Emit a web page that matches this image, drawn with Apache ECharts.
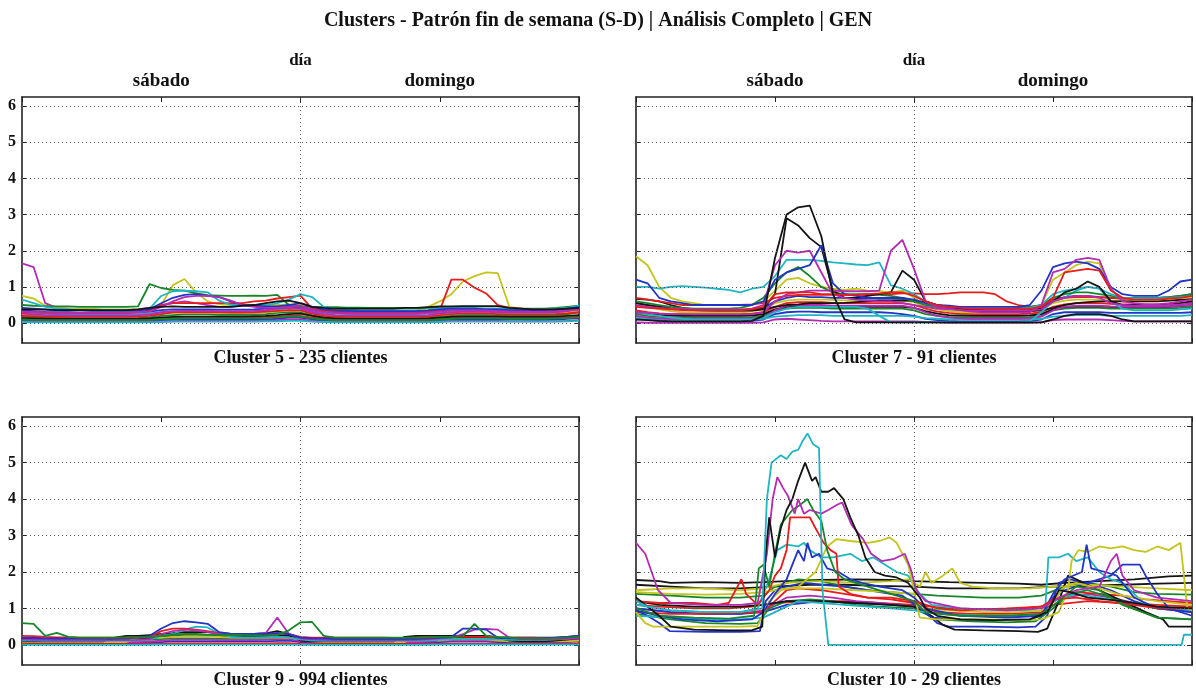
<!DOCTYPE html>
<html lang="es">
<head>
<meta charset="utf-8">
<title>Clusters - Patrón fin de semana (S-D)</title>
<script src="https://cdn.jsdelivr.net/npm/echarts@6/dist/echarts.min.js"></script>
<style>
  html, body { margin: 0; padding: 0; background: #fff; }
  #chart { width: 1196px; height: 692px; }
</style>
</head>
<body>
<div id="chart"></div>
<script>
// Hourly sampling grid: saturday 0..24, sunday 24..48
const hours = [0,1,2,3,4,5,6,7,8,9,10,11,12,13,14,15,16,17,18,19,20,21,22,23,24,
               25,26,27,28,29,30,31,32,33,34,35,36,37,38,39,40,41,42,43,44,45,46,47,48];
const yTickValues = [0, 1, 2, 3, 4, 5, 6];
const dayTicks = [12, 36];
const dayNames = ['sábado', 'domingo'];
const dayBoundary = 24;
const figureTitle = 'Clusters - Patrón fin de semana (S-D) | Análisis Completo | GEN';
const topAxisTitle = 'día';
const panelTitles = ['Cluster 5 - 235 clientes', 'Cluster 7 - 91 clientes',
                     'Cluster 9 - 994 clientes', 'Cluster 10 - 29 clientes'];

// ---- Cluster 5: one value per hour ----
const cluster5Colors = ['b','g','r','c','m','y','k','b','g','r','c','m','m','y','g','r','c','b','m','k'];
const cluster5 = [
  [0.08,0.07,0.06,0.06,0.05,0.05,0.05,0.05,0.05,0.05,0.06,0.07,
   0.08,0.09,0.1,0.1,0.1,0.1,0.1,0.1,0.1,0.1,0.12,0.15,
   0.15,0.1,0.07,0.06,0.05,0.05,0.05,0.05,0.05,0.05,0.05,0.06,
   0.08,0.09,0.1,0.1,0.1,0.1,0.1,0.1,0.09,0.09,0.1,0.12,0.14],
  [0.18,0.16,0.15,0.14,0.14,0.13,0.13,0.13,0.13,0.13,0.14,0.16,
   0.2,0.22,0.24,0.24,0.24,0.23,0.23,0.23,0.24,0.25,0.28,0.3,
   0.3,0.22,0.17,0.15,0.14,0.14,0.14,0.14,0.14,0.14,0.14,0.15,
   0.18,0.2,0.22,0.22,0.22,0.21,0.2,0.2,0.2,0.2,0.22,0.25,0.3],
  [0.12,0.11,0.1,0.1,0.1,0.09,0.09,0.09,0.09,0.09,0.1,0.1,
   0.12,0.14,0.15,0.15,0.15,0.15,0.15,0.15,0.16,0.17,0.18,0.2,
   0.2,0.15,0.12,0.1,0.1,0.1,0.1,0.1,0.1,0.1,0.1,0.1,
   0.12,0.14,0.15,0.15,0.15,0.15,0.14,0.14,0.14,0.14,0.15,0.16,0.18],
  [0.3,0.28,0.26,0.25,0.24,0.24,0.24,0.24,0.24,0.24,0.25,0.27,
   0.3,0.32,0.33,0.33,0.33,0.32,0.32,0.32,0.33,0.35,0.38,0.4,
   0.4,0.32,0.28,0.26,0.25,0.25,0.25,0.25,0.25,0.25,0.25,0.26,
   0.3,0.32,0.33,0.33,0.33,0.32,0.3,0.3,0.3,0.3,0.32,0.35,0.4],
  [0.05,0.04,0.03,0.03,0.03,0.03,0.03,0.03,0.03,0.03,0.03,0.04,
   0.05,0.05,0.06,0.06,0.06,0.06,0.06,0.06,0.06,0.07,0.08,0.1,
   0.1,0.06,0.04,0.03,0.03,0.03,0.03,0.03,0.03,0.03,0.03,0.03,
   0.05,0.06,0.06,0.06,0.06,0.06,0.05,0.05,0.05,0.05,0.05,0.06,0.08],
  [0.25,0.22,0.2,0.2,0.19,0.19,0.19,0.19,0.19,0.19,0.2,0.22,
   0.26,0.28,0.29,0.29,0.29,0.28,0.28,0.28,0.29,0.3,0.32,0.35,
   0.34,0.27,0.22,0.2,0.19,0.19,0.19,0.19,0.19,0.19,0.19,0.2,
   0.24,0.27,0.28,0.28,0.28,0.27,0.26,0.26,0.26,0.26,0.27,0.3,0.35],
  [0.14,0.13,0.12,0.12,0.12,0.12,0.12,0.12,0.12,0.12,0.12,0.13,
   0.15,0.17,0.18,0.18,0.18,0.18,0.18,0.18,0.19,0.2,0.22,0.25,
   0.26,0.2,0.15,0.13,0.12,0.12,0.12,0.12,0.12,0.12,0.12,0.13,
   0.15,0.17,0.18,0.18,0.18,0.18,0.17,0.17,0.17,0.17,0.18,0.2,0.22],
  [0.35,0.33,0.31,0.3,0.3,0.29,0.29,0.29,0.29,0.29,0.3,0.32,
   0.36,0.38,0.38,0.38,0.38,0.37,0.37,0.37,0.38,0.4,0.42,0.45,
   0.44,0.36,0.32,0.3,0.29,0.29,0.29,0.29,0.29,0.29,0.29,0.3,
   0.34,0.36,0.37,0.37,0.37,0.36,0.35,0.35,0.35,0.35,0.36,0.38,0.42],
  [0.1,0.09,0.08,0.08,0.08,0.08,0.08,0.08,0.08,0.08,0.08,0.09,
   0.11,0.12,0.13,0.13,0.13,0.13,0.13,0.13,0.13,0.14,0.16,0.18,
   0.18,0.13,0.1,0.08,0.08,0.08,0.08,0.08,0.08,0.08,0.08,0.08,
   0.1,0.12,0.13,0.13,0.13,0.13,0.12,0.12,0.12,0.12,0.13,0.14,0.16],
  [0.2,0.19,0.18,0.17,0.17,0.17,0.17,0.17,0.17,0.17,0.18,0.2,
   0.25,0.3,0.3,0.3,0.3,0.3,0.29,0.29,0.3,0.32,0.34,0.36,
   0.35,0.26,0.2,0.18,0.17,0.17,0.17,0.17,0.17,0.17,0.17,0.18,
   0.22,0.25,0.26,0.26,0.26,0.25,0.24,0.24,0.24,0.24,0.25,0.27,0.3],
  [0.03,0.02,0.02,0.02,0.02,0.02,0.02,0.02,0.02,0.02,0.02,0.02,
   0.03,0.04,0.04,0.04,0.04,0.04,0.04,0.04,0.04,0.05,0.05,0.06,
   0.06,0.04,0.03,0.02,0.02,0.02,0.02,0.02,0.02,0.02,0.02,0.02,
   0.03,0.04,0.04,0.04,0.04,0.04,0.04,0.04,0.04,0.04,0.04,0.05,0.06],
  [0.26,0.24,0.22,0.22,0.21,0.21,0.21,0.21,0.21,0.21,0.22,0.24,
   0.3,0.33,0.34,0.34,0.34,0.33,0.33,0.33,0.34,0.36,0.4,0.42,
   0.4,0.3,0.25,0.22,0.21,0.21,0.21,0.21,0.21,0.21,0.21,0.22,
   0.27,0.3,0.31,0.31,0.31,0.3,0.29,0.29,0.29,0.29,0.3,0.33,0.38],
  [1.65,1.55,0.55,0.42,0.4,0.38,0.37,0.36,0.36,0.36,0.38,0.42,
   0.5,0.55,0.6,0.55,0.5,0.45,0.45,0.5,0.48,0.45,0.48,0.5,
   0.45,0.35,0.32,0.3,0.3,0.3,0.3,0.3,0.3,0.3,0.3,0.32,
   0.38,0.4,0.4,0.38,0.36,0.35,0.33,0.32,0.32,0.32,0.33,0.35,0.38],
  [0.75,0.68,0.48,0.42,0.4,0.4,0.4,0.38,0.38,0.38,0.38,0.4,
   0.5,1.05,1.22,0.85,0.6,0.52,0.5,0.5,0.5,0.5,0.5,0.52,
   0.5,0.42,0.38,0.36,0.35,0.35,0.35,0.35,0.35,0.35,0.36,0.45,
   0.6,0.8,1.15,1.3,1.4,1.38,0.45,0.4,0.38,0.38,0.38,0.42,0.48],
  [0.5,0.48,0.47,0.46,0.46,0.45,0.45,0.45,0.45,0.45,0.46,1.08,
   0.97,0.92,0.9,0.82,0.77,0.76,0.75,0.75,0.76,0.75,0.78,0.5,
   0.46,0.45,0.44,0.44,0.43,0.43,0.42,0.42,0.42,0.42,0.42,0.42,
   0.42,0.42,0.4,0.4,0.4,0.4,0.4,0.4,0.4,0.4,0.42,0.45,0.48],
  [0.3,0.3,0.28,0.28,0.28,0.28,0.28,0.28,0.28,0.28,0.3,0.35,
   0.5,0.55,0.55,0.55,0.55,0.55,0.55,0.55,0.6,0.62,0.68,0.72,
   0.76,0.4,0.35,0.32,0.3,0.3,0.3,0.3,0.3,0.3,0.3,0.32,
   0.35,1.2,1.2,0.98,0.82,0.5,0.42,0.4,0.38,0.38,0.38,0.38,0.4],
  [0.65,0.55,0.45,0.4,0.38,0.36,0.35,0.35,0.35,0.35,0.35,0.4,
   0.75,0.88,0.9,0.88,0.85,0.62,0.5,0.5,0.5,0.5,0.55,0.65,
   0.8,0.72,0.45,0.4,0.38,0.36,0.35,0.35,0.35,0.35,0.35,0.36,
   0.4,0.42,0.42,0.42,0.4,0.4,0.38,0.38,0.38,0.38,0.4,0.42,0.48],
  [0.42,0.4,0.38,0.36,0.35,0.35,0.34,0.34,0.34,0.34,0.35,0.38,
   0.55,0.7,0.78,0.8,0.75,0.72,0.6,0.5,0.48,0.46,0.46,0.5,
   0.55,0.45,0.38,0.35,0.34,0.33,0.33,0.33,0.33,0.33,0.33,0.35,
   0.38,0.4,0.4,0.4,0.38,0.38,0.36,0.36,0.36,0.36,0.38,0.4,0.44],
  [0.32,0.3,0.3,0.28,0.28,0.28,0.28,0.28,0.28,0.28,0.3,0.32,
   0.45,0.6,0.72,0.75,0.75,0.72,0.62,0.5,0.45,0.42,0.42,0.45,
   0.48,0.38,0.3,0.28,0.27,0.27,0.27,0.27,0.27,0.27,0.27,0.28,
   0.32,0.35,0.35,0.35,0.35,0.33,0.32,0.32,0.32,0.32,0.33,0.35,0.38],
  [0.38,0.38,0.37,0.36,0.36,0.36,0.36,0.36,0.36,0.36,0.38,0.42,
   0.45,0.46,0.45,0.45,0.45,0.45,0.45,0.48,0.5,0.55,0.6,0.62,
   0.55,0.45,0.42,0.4,0.4,0.4,0.4,0.4,0.4,0.42,0.42,0.44,
   0.46,0.46,0.47,0.47,0.47,0.47,0.42,0.4,0.38,0.38,0.38,0.4,0.42]
];

// ---- Cluster 7: one value per hour ----
const cluster7Colors = ['b','g','r','c','m','y','k','b','m','k','c','r','y','g','c','k','m','b','m','r','k'];
const cluster7 = [
  [0.15,0.1,0.06,0.05,0.05,0.05,0.05,0.05,0.05,0.05,0.06,0.1,
   0.25,0.3,0.32,0.32,0.3,0.3,0.3,0.3,0.3,0.3,0.28,0.25,
   0.2,0.12,0.08,0.06,0.05,0.05,0.05,0.05,0.05,0.05,0.06,0.1,
   0.25,0.3,0.3,0.3,0.3,0.28,0.28,0.28,0.28,0.28,0.28,0.28,0.3],
  [0.25,0.2,0.17,0.15,0.15,0.15,0.15,0.15,0.15,0.15,0.16,0.2,
   0.35,0.4,0.42,0.42,0.42,0.4,0.4,0.4,0.4,0.4,0.4,0.4,
   0.35,0.25,0.2,0.17,0.16,0.15,0.15,0.15,0.15,0.15,0.16,0.2,
   0.35,0.4,0.42,0.42,0.42,0.4,0.4,0.4,0.4,0.4,0.4,0.42,0.45],
  [0.35,0.3,0.27,0.25,0.25,0.25,0.25,0.25,0.25,0.25,0.26,0.3,
   0.45,0.55,0.58,0.58,0.58,0.56,0.55,0.55,0.55,0.55,0.55,0.55,
   0.5,0.4,0.32,0.28,0.26,0.25,0.25,0.25,0.25,0.25,0.26,0.3,
   0.45,0.52,0.55,0.55,0.55,0.53,0.52,0.52,0.52,0.52,0.53,0.55,0.58],
  [0.15,0.12,0.1,0.1,0.1,0.1,0.1,0.1,0.1,0.1,0.1,0.12,
   0.18,0.2,0.22,0.22,0.22,0.2,0.2,0.2,0.2,0.2,0.2,0.2,
   0.18,0.14,0.12,0.1,0.1,0.1,0.1,0.1,0.1,0.1,0.1,0.12,
   0.18,0.2,0.22,0.22,0.22,0.2,0.2,0.2,0.2,0.2,0.2,0.2,0.22],
  [0.02,0.01,0.01,0.01,0.01,0.01,0.01,0.01,0.01,0.01,0.01,0.02,
   0.1,0.12,0.1,0.08,0.06,0.05,0.05,0.05,0.05,0.05,0.05,0.05,
   0.05,0.03,0.02,0.01,0.01,0.01,0.01,0.01,0.01,0.01,0.01,0.02,
   0.08,0.1,0.1,0.1,0.1,0.08,0.06,0.05,0.05,0.05,0.05,0.05,0.05],
  [0.5,0.45,0.38,0.33,0.3,0.3,0.3,0.3,0.3,0.3,0.32,0.38,
   0.55,0.62,0.65,0.65,0.65,0.64,0.63,0.63,0.63,0.63,0.62,0.62,
   0.58,0.45,0.38,0.33,0.3,0.3,0.3,0.3,0.3,0.3,0.32,0.38,
   0.55,0.62,0.65,0.65,0.65,0.63,0.62,0.62,0.62,0.62,0.63,0.65,0.68],
  [0.3,0.26,0.23,0.21,0.2,0.2,0.2,0.2,0.2,0.2,0.21,0.25,
   0.38,0.45,0.47,0.47,0.47,0.46,0.45,0.45,0.45,0.45,0.45,0.45,
   0.42,0.33,0.26,0.22,0.21,0.2,0.2,0.2,0.2,0.2,0.21,0.25,
   0.38,0.44,0.46,0.46,0.46,0.45,0.44,0.44,0.44,0.44,0.45,0.47,0.5],
  [0.55,0.5,0.45,0.4,0.38,0.36,0.35,0.35,0.35,0.35,0.36,0.42,
   0.6,0.7,0.75,0.72,0.72,0.7,0.7,0.68,0.68,0.68,0.68,0.68,
   0.62,0.52,0.45,0.4,0.38,0.36,0.35,0.35,0.35,0.35,0.36,0.45,
   0.65,0.72,0.75,0.75,0.72,0.7,0.68,0.68,0.68,0.7,0.72,0.75,0.8],
  [0.2,0.16,0.13,0.12,0.12,0.12,0.12,0.12,0.12,0.12,0.12,0.15,
   0.35,0.48,0.5,0.5,0.5,0.48,0.48,0.48,0.48,0.48,0.48,0.48,
   0.42,0.3,0.2,0.15,0.13,0.12,0.12,0.12,0.12,0.12,0.13,0.18,
   0.35,0.45,0.48,0.48,0.48,0.46,0.45,0.45,0.45,0.45,0.46,0.48,0.5],
  [0.67,0.65,0.6,0.5,0.42,0.38,0.36,0.35,0.35,0.35,0.35,0.38,
   0.45,0.5,0.52,0.55,0.55,0.55,0.56,0.58,0.6,0.62,0.62,0.63,
   0.62,0.58,0.5,0.42,0.38,0.35,0.33,0.32,0.32,0.32,0.33,0.35,
   0.42,0.5,0.55,0.58,0.6,0.6,0.6,0.6,0.6,0.6,0.62,0.64,0.66],
  [0.3,0.25,0.2,0.15,0.12,0.1,0.1,0.1,0.1,0.1,0.1,0.15,
   0.3,0.4,0.45,0.45,0.45,0.45,0.45,0.45,0.4,0.2,0.02,0.02,
   0.02,0.02,0.02,0.02,0.02,0.02,0.02,0.02,0.02,0.02,0.05,0.3,
   0.6,0.7,0.9,1.0,0.95,0.6,0.4,0.35,0.35,0.35,0.35,0.38,0.4],
  [0.7,0.65,0.6,0.55,0.5,0.5,0.5,0.5,0.5,0.5,0.52,0.55,
   0.7,0.75,0.78,0.78,0.78,0.78,0.78,0.78,0.78,0.8,0.8,0.82,
   0.82,0.8,0.8,0.82,0.85,0.85,0.85,0.8,0.6,0.5,0.45,0.5,
   0.65,0.7,0.72,0.72,0.72,0.7,0.68,0.68,0.68,0.68,0.7,0.72,0.75],
  [1.85,1.6,1.0,0.7,0.6,0.55,0.5,0.5,0.5,0.5,0.5,0.6,
   0.9,1.2,1.25,1.1,1.0,0.95,0.92,0.95,0.9,0.88,0.85,0.9,
   0.7,0.5,0.45,0.42,0.4,0.4,0.4,0.4,0.4,0.4,0.42,0.5,
   1.2,1.4,1.6,1.7,1.65,0.9,0.7,0.65,0.65,0.65,0.68,0.7,0.72],
  [0.6,0.55,0.5,0.45,0.42,0.4,0.4,0.4,0.4,0.42,0.5,0.7,
   1.1,1.4,1.55,1.3,1.0,0.85,0.8,0.8,0.8,0.78,0.75,0.7,
   0.6,0.5,0.45,0.42,0.4,0.4,0.4,0.4,0.4,0.42,0.45,0.5,
   0.7,0.8,0.85,0.85,0.8,0.75,0.7,0.7,0.7,0.7,0.72,0.75,0.8],
  [1.0,1.0,0.95,1.0,1.02,1.0,0.98,0.95,0.92,0.85,0.95,1.0,
   1.3,1.75,1.75,1.75,1.72,1.68,1.65,1.62,1.6,1.68,1.05,0.95,
   0.8,0.6,0.5,0.45,0.42,0.4,0.4,0.4,0.4,0.4,0.42,0.5,
   0.8,0.9,0.95,1.0,0.95,0.8,0.7,0.68,0.68,0.68,0.7,0.72,0.75],
  [0.55,0.5,0.45,0.4,0.38,0.36,0.35,0.35,0.35,0.35,0.35,0.4,
   0.8,2.9,2.7,2.35,2.1,0.9,0.7,0.7,0.75,0.8,0.85,1.45,
   1.2,0.6,0.5,0.45,0.4,0.38,0.36,0.35,0.35,0.35,0.35,0.4,
   0.6,0.85,0.95,1.15,1.0,0.6,0.5,0.5,0.5,0.5,0.5,0.55,0.6],
  [0.5,0.45,0.42,0.4,0.4,0.38,0.38,0.38,0.38,0.38,0.4,0.5,
   1.6,2.0,1.95,2.0,1.4,0.8,0.7,0.65,0.62,0.6,0.6,0.55,
   0.5,0.45,0.4,0.38,0.36,0.35,0.35,0.35,0.35,0.35,0.35,0.38,
   0.6,0.7,0.75,0.75,0.7,0.55,0.5,0.48,0.48,0.48,0.5,0.52,0.55],
  [1.2,1.1,0.7,0.6,0.55,0.5,0.5,0.5,0.5,0.5,0.5,0.6,
   1.2,1.4,1.5,1.6,2.15,1.1,0.8,0.75,0.7,0.7,0.7,0.7,
   0.65,0.55,0.5,0.48,0.45,0.45,0.45,0.45,0.45,0.45,0.5,0.9,
   1.55,1.65,1.7,1.65,1.5,1.0,0.8,0.75,0.75,0.75,0.9,1.15,1.2],
  [0.3,0.28,0.26,0.25,0.25,0.24,0.24,0.24,0.24,0.24,0.25,0.3,
   0.6,0.8,0.85,0.9,0.9,0.9,0.88,0.88,0.88,0.9,2.0,2.3,
   1.5,0.6,0.45,0.4,0.35,0.32,0.3,0.3,0.3,0.3,0.3,0.5,
   1.4,1.5,1.75,1.8,1.75,0.95,0.6,0.55,0.52,0.52,0.55,0.6,0.65],
  [0.45,0.42,0.4,0.38,0.36,0.35,0.35,0.35,0.35,0.35,0.38,0.45,
   0.8,0.85,0.85,0.85,0.8,0.8,0.78,0.78,0.8,0.82,0.85,0.85,
   0.75,0.6,0.5,0.45,0.42,0.4,0.4,0.4,0.4,0.4,0.4,0.45,
   0.7,1.4,1.45,1.5,1.45,0.9,0.7,0.65,0.65,0.65,0.68,0.7,0.75],
  [0.1,0.08,0.06,0.05,0.05,0.05,0.05,0.05,0.05,0.05,0.06,0.2,
   1.8,3.0,3.2,3.25,2.4,0.8,0.1,0.02,0.02,0.02,0.02,0.02,
   0.02,0.02,0.02,0.02,0.02,0.02,0.02,0.02,0.02,0.02,0.02,0.02,
   0.1,0.2,0.25,0.25,0.25,0.2,0.1,0.05,0.05,0.05,0.05,0.05,0.05]
];

// ---- Cluster 9: one value per hour ----
const cluster9Colors = ['b','g','r','m','c','k','y','k','c','r','m','b','g'];
const cluster9 = [
  [0.06,0.05,0.05,0.05,0.05,0.05,0.05,0.05,0.05,0.05,0.05,0.06,
   0.08,0.1,0.1,0.1,0.1,0.1,0.1,0.1,0.1,0.1,0.11,0.12,
   0.08,0.06,0.05,0.05,0.05,0.05,0.05,0.05,0.05,0.05,0.05,0.06,
   0.08,0.09,0.09,0.09,0.09,0.08,0.08,0.08,0.08,0.08,0.08,0.08,0.1],
  [0.14,0.13,0.12,0.12,0.12,0.12,0.12,0.12,0.12,0.12,0.13,0.14,
   0.16,0.18,0.18,0.18,0.18,0.17,0.17,0.17,0.17,0.18,0.19,0.2,
   0.16,0.13,0.12,0.12,0.12,0.12,0.12,0.12,0.12,0.12,0.12,0.13,
   0.15,0.16,0.16,0.16,0.16,0.15,0.15,0.15,0.15,0.15,0.15,0.16,0.18],
  [0.03,0.02,0.02,0.02,0.02,0.02,0.02,0.02,0.02,0.02,0.02,0.02,
   0.03,0.04,0.04,0.04,0.04,0.04,0.04,0.04,0.04,0.04,0.05,0.05,
   0.03,0.02,0.02,0.02,0.02,0.02,0.02,0.02,0.02,0.02,0.02,0.02,
   0.03,0.03,0.03,0.03,0.03,0.03,0.03,0.03,0.03,0.03,0.03,0.03,0.04],
  [0.1,0.09,0.08,0.08,0.08,0.08,0.08,0.08,0.08,0.08,0.08,0.09,
   0.12,0.14,0.14,0.14,0.14,0.13,0.13,0.13,0.13,0.14,0.15,0.15,
   0.11,0.09,0.08,0.08,0.08,0.08,0.08,0.08,0.08,0.08,0.08,0.09,
   0.11,0.12,0.12,0.12,0.12,0.11,0.11,0.11,0.11,0.11,0.11,0.12,0.14],
  [0.0,0.0,0.0,0.0,0.0,0.0,0.0,0.0,0.0,0.0,0.0,0.0,
   0.01,0.01,0.01,0.01,0.01,0.01,0.01,0.01,0.01,0.01,0.01,0.01,
   0.0,0.0,0.0,0.0,0.0,0.0,0.0,0.0,0.0,0.0,0.0,0.0,
   0.01,0.01,0.01,0.01,0.01,0.01,0.01,0.01,0.01,0.01,0.01,0.01,0.01],
  [0.19,0.18,0.17,0.17,0.17,0.17,0.17,0.17,0.17,0.17,0.18,0.19,
   0.22,0.24,0.25,0.25,0.25,0.24,0.24,0.24,0.24,0.25,0.26,0.25,
   0.2,0.18,0.17,0.17,0.17,0.17,0.17,0.17,0.17,0.17,0.17,0.18,
   0.2,0.21,0.21,0.21,0.21,0.2,0.2,0.2,0.2,0.2,0.2,0.22,0.25],
  [0.08,0.08,0.08,0.08,0.08,0.08,0.08,0.08,0.08,0.08,0.2,0.28,
   0.2,0.22,0.24,0.24,0.24,0.22,0.2,0.2,0.2,0.2,0.2,0.2,
   0.15,0.1,0.08,0.08,0.08,0.08,0.08,0.08,0.08,0.08,0.25,0.15,
   0.12,0.15,0.15,0.15,0.15,0.12,0.1,0.1,0.1,0.1,0.1,0.1,0.12],
  [0.1,0.1,0.1,0.1,0.1,0.1,0.1,0.1,0.2,0.25,0.25,0.27,
   0.3,0.32,0.35,0.35,0.35,0.33,0.3,0.3,0.3,0.32,0.38,0.3,
   0.12,0.1,0.1,0.1,0.1,0.1,0.1,0.1,0.1,0.22,0.25,0.25,
   0.25,0.25,0.25,0.25,0.25,0.2,0.12,0.1,0.1,0.1,0.12,0.15,0.18],
  [0.12,0.12,0.11,0.11,0.11,0.11,0.11,0.11,0.11,0.11,0.12,0.15,
   0.25,0.3,0.42,0.5,0.48,0.3,0.22,0.2,0.2,0.2,0.22,0.2,
   0.15,0.12,0.11,0.11,0.11,0.11,0.11,0.11,0.11,0.11,0.11,0.12,
   0.14,0.15,0.16,0.16,0.16,0.15,0.14,0.14,0.14,0.14,0.15,0.18,0.25],
  [0.25,0.24,0.22,0.21,0.21,0.2,0.2,0.2,0.2,0.2,0.2,0.22,
   0.38,0.45,0.45,0.42,0.38,0.32,0.3,0.3,0.3,0.3,0.32,0.3,
   0.22,0.2,0.2,0.2,0.2,0.2,0.2,0.2,0.19,0.19,0.2,0.2,
   0.2,0.22,0.22,0.22,0.22,0.2,0.2,0.2,0.2,0.18,0.18,0.18,0.2],
  [0.15,0.14,0.14,0.13,0.13,0.13,0.13,0.13,0.13,0.13,0.14,0.16,
   0.3,0.38,0.42,0.4,0.35,0.3,0.28,0.28,0.3,0.32,0.75,0.3,
   0.18,0.15,0.14,0.13,0.13,0.13,0.13,0.13,0.13,0.13,0.14,0.15,
   0.18,0.2,0.3,0.42,0.44,0.42,0.2,0.16,0.15,0.15,0.15,0.16,0.18],
  [0.2,0.19,0.18,0.18,0.18,0.18,0.18,0.18,0.18,0.19,0.2,0.25,
   0.45,0.6,0.65,0.62,0.58,0.35,0.3,0.3,0.3,0.3,0.32,0.3,
   0.2,0.18,0.18,0.17,0.17,0.17,0.17,0.17,0.17,0.17,0.17,0.18,
   0.2,0.22,0.45,0.45,0.42,0.2,0.18,0.18,0.18,0.18,0.2,0.22,0.25],
  [0.6,0.58,0.25,0.33,0.22,0.2,0.2,0.2,0.2,0.2,0.2,0.22,
   0.25,0.28,0.3,0.3,0.28,0.28,0.28,0.27,0.26,0.26,0.27,0.4,
   0.62,0.63,0.25,0.2,0.2,0.2,0.2,0.2,0.2,0.2,0.2,0.2,
   0.22,0.22,0.24,0.58,0.25,0.22,0.2,0.18,0.18,0.18,0.18,0.2,0.22]
];

// ---- Cluster 10: [hour, value] breakpoints ----
const cluster10Colors = ['k','k','r','g','m','b','r','g','y','k','b','c','c','y','y','b','r','g','m','k','c'];
const cluster10 = [
  [[0,1.78],[2,1.75],[3,1.7],[6,1.72],[9,1.7],[11,1.72],[13,1.75],[16,1.78],[19,1.8],[22,1.78],[24,1.75],[27,1.72],[30,1.7],[33,1.68],[35,1.65],[37,1.7],[40,1.75],[43,1.8],[46,1.88],[48,1.9]],
  [[0,1.65],[3,1.6],[6,1.55],[9,1.55],[12,1.6],[15,1.65],[18,1.65],[21,1.62],[24,1.6],[27,1.55],[30,1.55],[33,1.55],[36,1.6],[39,1.62],[42,1.65],[45,1.68],[48,1.7]],
  [[0,1.1],[2,1.05],[5,1.0],[8,1.0],[10,1.05],[12,1.15],[15,1.2],[18,1.2],[21,1.15],[24,1.1],[27,1.0],[30,0.98],[33,0.98],[36,1.1],[39,1.2],[42,1.15],[45,1.1],[48,1.05]],
  [[0,1.4],[3,1.35],[6,1.3],[9,1.3],[11,1.35],[12,1.6],[14,1.8],[16,1.75],[18,1.6],[20,1.5],[22,1.45],[24,1.4],[26,1.35],[30,1.3],[33,1.3],[35,1.35],[37,1.6],[39,1.7],[41,1.6],[43,1.45],[45,1.4],[48,1.38]],
  [[0,1.0],[3,0.9],[6,0.85],[9,0.85],[11,0.95],[13,1.3],[15,1.35],[17,1.3],[19,1.2],[21,1.15],[24,1.05],[26,0.85],[29,0.8],[32,0.78],[35,0.85],[37,1.3],[39,1.4],[41,1.3],[43,1.15],[45,1.0],[48,0.95]],
  [[0,1.0],[3,0.9],[6,0.85],[9,0.85],[11,0.9],[13,1.1],[16,1.2],[19,1.15],[22,1.1],[24,1.05],[25,0.9],[26,0.6],[27,0.5],[30,0.5],[33,0.48],[34.5,0.5],[35.5,0.8],[36.5,1.7],[37.5,1.8],[39,1.7],[41,1.5],[43,1.2],[45,1.0],[48,0.9]],
  [[0,0.9],[3,0.85],[6,0.85],[9,0.88],[11,0.9],[12,1.2],[13,1.5],[14,1.55],[16,1.5],[18,1.4],[20,1.3],[22,1.25],[24,1.15],[26,0.9],[29,0.85],[32,0.85],[35,0.9],[36.5,1.3],[38,1.45],[40,1.4],[42,1.35],[44,1.25],[46,1.2],[48,1.15]],
  [[0,0.85],[3,0.7],[6,0.6],[9,0.58],[10.5,0.6],[11.5,1.0],[13,1.2],[15,1.25],[17,1.2],[19,1.1],[21,1.05],[24,1.0],[26,0.7],[29,0.65],[32,0.62],[34.5,0.65],[36,1.0],[37.5,1.4],[39,1.5],[41,1.3],[43,1.0],[45,0.75],[48,0.7]],
  [[0,1.5],[3,1.55],[6,1.55],[9,1.5],[11,1.55],[13,1.7],[16,1.75],[19,1.7],[22,1.75],[23.5,1.8],[24.5,1.6],[25,2.0],[25.5,1.7],[26.5,1.9],[27.3,2.1],[28,1.7],[29,1.6],[31,1.55],[34,1.55],[36,1.6],[39,1.65],[42,1.6],[45,1.55],[48,1.5]],
  [[0,1.2],[2,1.1],[5,1.05],[9,1.05],[11,1.1],[13,1.2],[16,1.2],[19,1.15],[22,1.1],[24,1.05],[25.5,0.8],[26.5,0.55],[27.5,0.42],[30,0.4],[33,0.38],[34.7,0.36],[35.5,0.45],[36.5,1.2],[37.3,1.9],[38,1.8],[40,1.5],[42,1.2],[44,0.9],[45.5,0.7],[46,0.5],[48,0.5]],
  [[0,0.95],[1,0.8],[2,0.6],[2.9,0.38],[6,0.36],[9,0.36],[10.7,0.38],[11.2,1.2],[12,1.5],[13,1.6],[14.5,1.7],[16,1.65],[18,1.6],[20,1.5],[22,1.4],[23,1.35],[24.5,1.0],[25.5,0.75],[28,0.7],[31,0.68],[34,0.7],[35,0.8],[36,1.3],[37,1.5],[39,1.7],[41,1.9],[42,2.2],[43.5,2.2],[44,1.9],[45,1.4],[46,1.0],[48,0.8]],
  [[0,0.8],[3,0.75],[6,0.7],[9,0.7],[11,0.75],[12,0.9],[14,1.2],[16,1.15],[18,1.1],[20,1.05],[22,1.0],[24,0.95],[26,0.85],[30,0.8],[33,0.8],[35.3,0.85],[35.6,2.4],[36.5,2.4],[37.3,2.5],[38,2.3],[39,2.4],[40,2.0],[41,1.8],[42,1.7],[43,1.4],[44,1.1],[46,1.0],[48,0.95]],
  [[0,1.1],[3,0.95],[6,0.9],[9,0.9],[10.5,1.0],[11.5,1.8],[12.2,2.6],[13,2.75],[14,2.7],[14.5,2.8],[15,2.6],[16,2.4],[17,2.4],[18.5,2.5],[19.5,2.3],[20.5,2.4],[21.5,2.2],[22.5,2.0],[23.5,1.9],[24.5,1.4],[25.5,1.1],[28,1.0],[32,0.95],[34,0.95],[35,1.05],[36,1.2],[38,1.4],[40,1.3],[42,1.2],[45,1.05],[48,0.95]],
  [[0,1.45],[3,1.4],[6,1.38],[9,1.4],[11,1.45],[13,1.55],[16,1.55],[19,1.5],[22,1.45],[24,1.4],[24.5,0.75],[26,0.7],[30,0.7],[33,0.68],[35,0.7],[36.5,0.9],[37.3,1.5],[37.6,2.3],[38.2,2.6],[39,2.55],[40,2.7],[41,2.65],[42,2.7],[43,2.6],[44,2.55],[45,2.7],[46,2.6],[47,2.8],[47.6,1.0],[48,0.95]],
  [[0,0.9],[0.8,0.6],[1.5,0.5],[5,0.5],[9,0.5],[10.5,0.52],[11.5,1.2],[12.5,1.5],[14,1.6],[15.5,2.0],[16.5,2.7],[17.3,2.9],[18.5,2.85],[20,2.8],[21,2.85],[21.9,2.95],[22.5,2.8],[23.5,2.2],[24.2,1.2],[25,1.0],[27,0.95],[30,0.9],[33,0.9],[35,0.95],[36,1.2],[37,1.6],[38,1.7],[40,1.55],[42,1.35],[45,1.2],[48,1.1]],
  [[0,0.95],[2,0.8],[4,0.7],[7,0.65],[10,0.7],[11,0.9],[12,1.4],[13,1.8],[13.5,2.2],[14,2.6],[14.5,2.3],[14.8,2.8],[15.2,2.4],[15.8,2.5],[16.5,2.1],[17.5,2.0],[18.5,1.8],[19.5,1.7],[21,1.6],[22,1.55],[23,1.5],[24,1.3],[25,1.0],[28,0.8],[32,0.75],[35,0.8],[36,1.4],[37,1.8],[38.5,2.0],[38.9,2.75],[39.3,2.1],[40.5,2.0],[41.5,1.9],[43,1.3],[45,1.0],[48,0.9]],
  [[0,1.2],[2,1.15],[5,1.15],[7,1.1],[8,1.15],[9.1,1.8],[9.5,1.4],[10.5,1.1],[11.5,1.5],[12,1.9],[12.5,2.1],[13,2.6],[13.3,3.5],[14,3.5],[15,3.5],[15.5,3.2],[16.2,2.8],[16.8,2.6],[17.3,2.5],[17.5,1.6],[18.5,1.4],[20,1.3],[22,1.3],[24,1.2],[26,1.0],[28,0.95],[32,1.0],[35,1.05],[36,1.25],[38,1.3],[40,1.2],[43,1.1],[45,1.0],[48,1.0]],
  [[0,1.0],[2,0.8],[5,0.75],[8,0.72],[10.2,0.8],[10.6,2.1],[11,2.2],[11.5,1.6],[12,2.5],[12.5,3.3],[13,3.5],[13.5,3.7],[14,3.8],[14.8,4.0],[15.3,3.7],[16,3.4],[16.5,2.6],[17.2,2.0],[18,1.8],[20,1.6],[22,1.4],[24,1.2],[25,0.9],[28,0.8],[32,0.8],[35,0.85],[36.5,1.2],[38,1.6],[40,1.5],[42,1.1],[45,0.75],[48,0.7]],
  [[0,2.8],[0.8,2.5],[1.9,1.5],[3,1.15],[6,1.1],[9,1.1],[10.5,1.15],[11.3,2.5],[11.8,4.0],[12.2,4.6],[12.7,4.3],[13.1,4.1],[13.7,3.6],[14,4.0],[14.5,3.6],[15,3.7],[16,3.6],[16.6,3.7],[17.4,3.85],[17.8,3.9],[18.6,3.3],[19.6,2.9],[20.3,2.5],[21.2,2.3],[22.2,2.35],[23.2,2.5],[23.7,2.1],[24.2,1.5],[25,1.2],[28,1.0],[32,0.95],[35,1.0],[36.5,1.3],[38,1.5],[40,1.6],[41,2.3],[41.5,2.5],[42,1.9],[43,1.5],[45,1.3],[48,1.2]],
  [[0,1.3],[1,1.05],[2,0.8],[3,0.5],[5,0.42],[8,0.4],[10,0.4],[10.9,0.5],[11.2,2.5],[11.5,3.5],[12,2.4],[12.5,3.2],[13,3.7],[13.5,4.0],[14,4.5],[14.6,5.0],[15.2,4.5],[15.5,4.6],[16,4.2],[16.6,4.2],[17.1,4.3],[17.9,4.0],[18.5,3.5],[19.2,3.0],[19.8,2.4],[20.6,2.0],[21.5,1.9],[22.5,1.85],[23.5,1.7],[24.5,1.3],[25,1.0],[26,0.8],[28,0.7],[31,0.68],[34,0.7],[35.5,0.9],[36.5,1.5],[37.5,1.45],[39,1.3],[42,1.2],[45,1.05],[48,1.0]],
  [[0,1.2],[1,1.05],[3,0.95],[6,0.9],[9,0.9],[10.9,1.0],[11.3,4.0],[11.7,5.0],[12.5,5.2],[13,5.1],[13.5,5.3],[14,5.35],[14.4,5.6],[14.8,5.8],[15.3,5.5],[15.8,5.4],[16.1,1.5],[16.6,0.0],[47.1,0.0],[47.3,0.28],[48,0.28]]
];

const panels = [
  { lines: cluster5, colors: cluster5Colors },
  { lines: cluster7, colors: cluster7Colors },
  { lines: cluster9, colors: cluster9Colors },
  { lines: cluster10, colors: cluster10Colors }
];

// ---- styling ----
const palette = { b: '#2233c8', g: '#17862a', r: '#e81c1c', c: '#1fb5c3', m: '#b42bb4', y: '#c4c41c', k: '#141414' };
const serif = "'Liberation Serif', 'DejaVu Serif', serif";
const frameColor = '#222';
const gridBoxes = [
  { left: 22,  top: 97,  width: 557, height: 246 },
  { left: 636, top: 97,  width: 556, height: 246 },
  { left: 22,  top: 417, width: 557, height: 248 },
  { left: 636, top: 417, width: 556, height: 248 }
];
const yMin = -0.55, yMax = 6.25;

function toPoints(line) {
  return typeof line[0] === 'number' ? line.map((v, i) => [hours[i], v]) : line;
}

const xAxes = [], yAxes = [], series = [];
gridBoxes.forEach((box, p) => {
  const isTop = p < 2;
  const isLeft = p % 2 === 0;
  const axisLine = { show: true, onZero: false, lineStyle: { color: frameColor, width: 1.6 } };
  const tick = { show: true, inside: true, length: 5, lineStyle: { color: frameColor, width: 1 } };
  // bottom x axis, carries the panel caption
  xAxes.push({
    gridIndex: p, type: 'value', position: 'bottom', min: 0, max: 48, interval: 12,
    axisLine, axisTick: tick, axisLabel: { show: false }, splitLine: { show: false },
    name: panelTitles[p], nameLocation: 'middle', nameGap: 6,
    nameTextStyle: { fontFamily: serif, fontWeight: 'bold', fontSize: 18, color: '#111', verticalAlign: 'top' }
  });
  // top x axis, day names
  xAxes.push({
    gridIndex: p, type: 'value', position: 'top', min: 0, max: 48, interval: 12,
    axisLine, axisTick: tick, splitLine: { show: false },
    axisLabel: {
      show: isTop, margin: 6, fontFamily: serif, fontWeight: 'bold', fontSize: 19, color: '#111',
      formatter: v => { const i = dayTicks.indexOf(v); return i >= 0 ? dayNames[i] : ''; }
    },
    name: isTop ? topAxisTitle : '', nameLocation: 'middle', nameGap: 28,
    nameTextStyle: { fontFamily: serif, fontWeight: 'bold', fontSize: 17, color: '#111' }
  });
  yAxes.push({
    gridIndex: p, type: 'value', position: 'left', min: yMin, max: yMax,
    axisLine, splitLine: { show: false },
    axisTick: Object.assign({ customValues: yTickValues }, tick),
    axisLabel: { show: isLeft, customValues: yTickValues, margin: 6, fontFamily: serif, fontWeight: 'bold', fontSize: 16, color: '#111' }
  });
  yAxes.push({
    gridIndex: p, type: 'value', position: 'right', min: yMin, max: yMax,
    axisLine, splitLine: { show: false },
    axisTick: Object.assign({ customValues: yTickValues }, tick),
    axisLabel: { show: false }
  });

  // dotted reference grid
  series.push({
    type: 'line', xAxisIndex: 2 * p, yAxisIndex: 2 * p, data: [], silent: true, z: 1,
    markLine: {
      silent: true, symbol: ['none', 'none'], animation: false, label: { show: false },
      lineStyle: { type: [1, 3], color: '#555', width: 1 },
      emphasis: { disabled: true },
      data: yTickValues.map(v => ({ yAxis: v })).concat([{ xAxis: dayBoundary }])
    }
  });

  const panel = panels[p];
  panel.lines.forEach((line, i) => {
    series.push({
      type: 'line', xAxisIndex: 2 * p, yAxisIndex: 2 * p, z: 2,
      data: toPoints(line), showSymbol: false, symbol: 'none', silent: true,
      clip: true, animation: false,
      lineStyle: { width: 1.8, color: palette[panel.colors[i]] }
    });
  });
});

const chart = echarts.init(document.getElementById('chart'), null, { renderer: 'canvas' });
chart.setOption({
  backgroundColor: '#fff',
  animation: false,
  title: {
    text: figureTitle, left: 'center', top: 6,
    textStyle: { fontFamily: serif, fontWeight: 'bold', fontSize: 20, color: '#111' }
  },
  grid: gridBoxes.map(b => Object.assign({ containLabel: false }, b)),
  xAxis: xAxes,
  yAxis: yAxes,
  series
});
</script>
</body>
</html>
